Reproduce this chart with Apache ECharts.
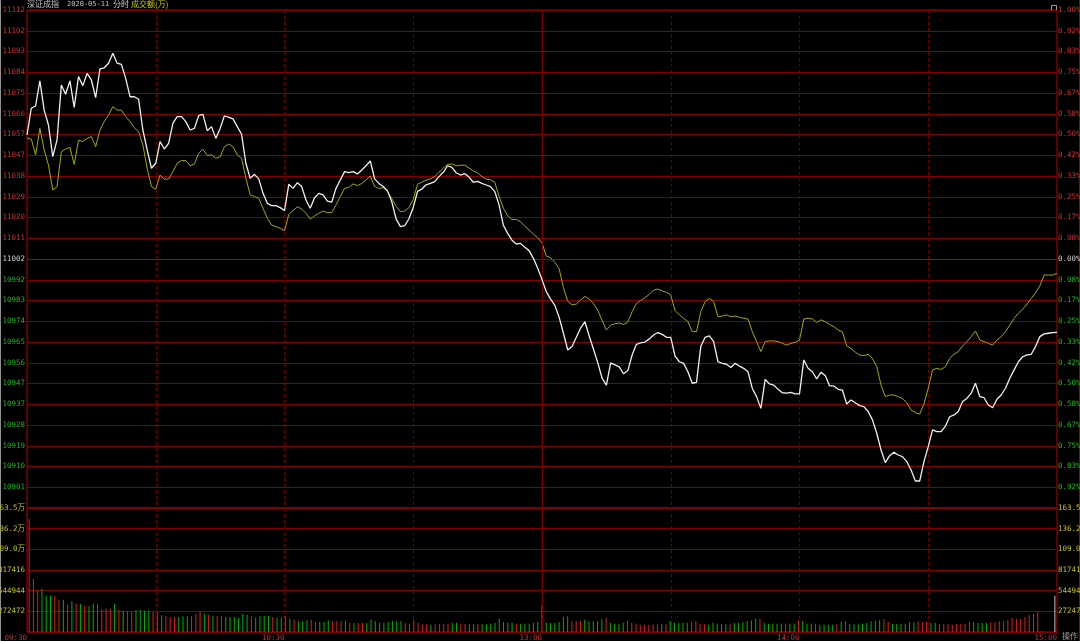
<!DOCTYPE html>
<html>
<head>
<meta charset="utf-8">
<script src="https://cdn.jsdelivr.net/npm/echarts/dist/echarts.min.js"></script>
<style>
html, body { margin: 0; padding: 0; background: #000; }
#chart { width: 1080px; height: 641px; }
</style>
</head>
<body>
<div id="chart"></div>
<script>
// previous close and the +/-1% band of the chart
var prevClose = 11002
var bandPct = 0.01

// time axis labels (index of the minute, text)
var timeTickIdx = [0, 60, 120, 180, 240]
var timeTickText = ['09:30', '10:30', '13:00', '14:00', '15:00']

// left / right price axis labels, top to bottom
var priceTicks = ['11112', '11102', '11093', '11084', '11075', '11066', '11057', '11047', '11038', '11029', '11020', '11011',
  '11002', '10992', '10983', '10974', '10965', '10956', '10947', '10937', '10928', '10919', '10910', '10901']
var pctTicks = ['1.00%', '0.92%', '0.83%', '0.75%', '0.67%', '0.58%', '0.50%', '0.42%', '0.33%', '0.25%', '0.17%', '0.08%',
  '0.00%', '0.08%', '0.17%', '0.25%', '0.33%', '0.42%', '0.50%', '0.58%', '0.67%', '0.75%', '0.83%', '0.92%']

// volume axis, bottom to top
var volStep = 272472
var volTicks = ['', '272472', '544944', '817416', '109.0万', '136.2万', '163.5万']

// index line (white), one value per minute
var indexLine = [
  11056.8, 11068.6, 11069.6, 11080.7, 11067.8, 11061.2, 11047.2, 11054.6, 11078.9, 11074.8,
  11080.7, 11069.0, 11082.6, 11078.6, 11084.0, 11081.1, 11073.3, 11086.0, 11086.5, 11088.5,
  11092.9, 11088.5, 11088.0, 11081.8, 11073.7, 11073.7, 11072.6, 11059.0, 11050.2, 11042.1,
  11044.3, 11053.9, 11050.6, 11053.1, 11062.0, 11064.9, 11064.9, 11062.7, 11059.0, 11059.7,
  11065.3, 11065.9, 11058.7, 11060.5, 11055.3, 11059.7, 11065.3, 11064.6, 11063.9, 11060.5,
  11057.1, 11044.3, 11037.7, 11039.4, 11037.4, 11031.0, 11026.6, 11025.6, 11025.6, 11024.7,
  11023.4, 11035.0, 11033.2, 11035.7, 11034.0, 11028.1, 11024.4, 11029.1, 11031.0, 11030.3,
  11027.6, 11027.1, 11033.2, 11036.9, 11040.6, 11040.2, 11040.6, 11039.6, 11041.3, 11043.2,
  11045.3, 11037.4, 11035.4, 11034.0, 11032.1, 11027.3, 11019.7, 11016.3, 11016.7, 11019.8,
  11024.8, 11031.9, 11032.9, 11034.8, 11035.4, 11036.2, 11038.4, 11040.3, 11043.2, 11042.5,
  11040.1, 11039.1, 11039.7, 11038.2, 11035.9, 11036.3, 11035.4, 11034.7, 11034.0, 11031.8,
  11025.9, 11016.9, 11013.3, 11010.3, 11008.6, 11008.9, 11007.2, 11005.7, 11002.3, 10997.9,
  10992.9, 10987.6, 10984.3, 10981.5, 10976.2, 10969.2, 10961.8, 10963.3, 10967.4, 10971.5,
  10974.3, 10968.0, 10962.1, 10956.1, 10949.4, 10946.3, 10956.1, 10955.2, 10954.3, 10951.3,
  10952.7, 10959.6, 10964.3, 10964.9, 10965.3, 10966.7, 10968.4, 10969.5, 10968.7, 10967.4,
  10967.4, 10959.1, 10956.6, 10955.9, 10952.2, 10947.1, 10947.5, 10963.3, 10967.4, 10968.0,
  10965.5, 10956.6, 10955.9, 10955.5, 10954.1, 10955.9, 10954.7, 10953.7, 10952.2, 10944.8,
  10941.2, 10936.0, 10948.8, 10946.8, 10946.3, 10944.4, 10942.9, 10942.7, 10943.1, 10942.4,
  10942.4, 10957.4, 10953.7, 10952.2, 10949.0, 10951.9, 10950.5, 10946.0, 10945.9, 10944.4,
  10944.1, 10937.9, 10939.7, 10938.5, 10937.2, 10936.8, 10934.6, 10930.9, 10925.0, 10917.6,
  10912.0, 10915.1, 10916.6, 10915.4, 10914.7, 10912.5, 10908.8, 10903.9, 10903.9, 10912.5,
  10919.1, 10926.5, 10925.7, 10925.7, 10928.2, 10932.3, 10933.1, 10934.6, 10939.0, 10940.4,
  10942.7, 10947.1, 10941.2, 10940.7, 10937.5, 10936.3, 10940.0, 10941.9, 10944.9, 10949.3,
  10953.0, 10956.6, 10958.8, 10959.6, 10959.9, 10963.3, 10967.7, 10968.9, 10969.2, 10969.5,
  10969.6
]

// second line (yellow)
var leadLine = [
  11055.5, 11055.0, 11048.0, 11059.7, 11050.2, 11043.5, 11032.5, 11034.0, 11049.4, 11050.6,
  11051.3, 11043.8, 11054.5, 11053.9, 11055.3, 11056.1, 11051.6, 11059.0, 11062.7, 11065.6,
  11069.3, 11067.8, 11067.8, 11064.9, 11062.7, 11060.0, 11058.3, 11052.4, 11042.1, 11034.0,
  11032.8, 11039.1, 11037.2, 11037.4, 11040.6, 11044.3, 11045.5, 11045.5, 11043.2, 11044.0,
  11048.7, 11050.5, 11047.7, 11048.0, 11046.5, 11047.2, 11051.6, 11052.8, 11051.6, 11048.0,
  11046.5, 11037.7, 11030.3, 11029.6, 11028.8, 11024.4, 11020.0, 11017.0, 11016.3, 11015.6,
  11014.5, 11021.7, 11023.4, 11025.1, 11024.1, 11022.2, 11019.7, 11021.0, 11022.2, 11023.2,
  11022.5, 11022.5, 11025.9, 11029.6, 11033.2, 11033.7, 11035.2, 11034.4, 11035.4, 11036.9,
  11038.7, 11034.0, 11033.2, 11033.5, 11031.8, 11028.7, 11025.3, 11022.9, 11023.2, 11024.7,
  11028.4, 11035.0, 11036.0, 11036.8, 11037.4, 11038.4, 11040.3, 11042.2, 11043.8, 11044.0,
  11043.2, 11043.4, 11043.5, 11042.2, 11040.9, 11040.1, 11038.4, 11037.3, 11037.0, 11035.9,
  11029.7, 11024.4, 11021.2, 11019.4, 11019.5, 11018.5, 11016.4, 11014.8, 11013.0, 11011.4,
  11009.1, 11003.3, 11002.6, 11000.5, 10997.7, 10989.3, 10983.3, 10981.7, 10982.1, 10983.9,
  10985.5, 10984.3, 10982.3, 10979.3, 10974.9, 10970.6, 10972.8, 10973.4, 10973.7, 10973.1,
  10974.2, 10978.7, 10982.3, 10983.7, 10984.9, 10986.4, 10988.3, 10988.7, 10987.9, 10987.3,
  10986.1, 10979.2, 10977.3, 10975.8, 10974.3, 10969.9, 10969.9, 10978.7, 10983.2, 10984.6,
  10983.2, 10976.5, 10976.8, 10977.3, 10976.5, 10976.8, 10976.2, 10975.8, 10975.5, 10969.9,
  10965.5, 10961.1, 10965.5, 10965.8, 10965.8, 10965.5, 10964.7, 10964.0, 10964.7, 10965.2,
  10966.2, 10975.5, 10975.8, 10975.5, 10974.0, 10975.1, 10974.3, 10973.1, 10972.1, 10970.6,
  10969.9, 10963.6, 10962.5, 10960.8, 10959.6, 10959.3, 10959.9, 10958.1, 10954.4, 10946.3,
  10941.2, 10941.9, 10941.9, 10941.2, 10940.4, 10938.5, 10935.3, 10934.1, 10933.5, 10937.9,
  10944.9, 10953.0, 10953.7, 10953.2, 10954.4, 10958.1, 10959.9, 10961.1, 10963.6, 10965.5,
  10967.7, 10970.2, 10966.2, 10965.5, 10964.7, 10964.0, 10966.2, 10967.7, 10969.9, 10972.8,
  10975.8, 10978.0, 10979.8, 10982.1, 10984.6, 10987.1, 10990.1, 10994.9, 10994.9, 10994.9,
  10995.7
]

// volume per minute
var volume = [
  1494000, 698600, 558000, 571200, 478900, 478900, 478900, 417400, 426200, 355900,
  404200, 373500, 369100, 347100, 338300, 373500, 373500, 303200, 307600, 307600,
  369100, 294400, 281200, 272400, 272400, 294400, 285600, 281200, 281200, 263600,
  263600, 219700, 206500, 197700, 197700, 197700, 206500, 206500, 206500, 237300,
  272400, 241700, 228500, 210900, 206500, 210900, 197700, 197700, 197700, 184500,
  241700, 228500, 210900, 188900, 210900, 210900, 210900, 197700, 184500, 184500,
  210900, 175800, 162600, 145000, 145000, 153800, 162600, 131800, 131800, 131800,
  153800, 145000, 145000, 145000, 140600, 118600, 123000, 118600, 123000, 118600,
  162600, 140600, 123000, 123000, 131800, 145000, 145000, 140600, 118600, 109900,
  162600, 118600, 101100, 101100, 96700, 101100, 109900, 109900, 109900, 123000,
  123000, 109900, 109900, 101100, 101100, 101100, 101100, 101100, 109900, 118600,
  175800, 131800, 123000, 123000, 109900, 109900, 109900, 109900, 123000, 131800,
  351500, 123000, 118600, 123000, 131800, 197700, 206500, 145000, 145000, 140600,
  162600, 140600, 140600, 140600, 167000, 188900, 123000, 109900, 109900, 123000,
  145000, 123000, 109900, 96700, 96700, 96700, 101100, 101100, 101100, 101100,
  145000, 123000, 123000, 123000, 123000, 131800, 145000, 109900, 101100, 96700,
  123000, 109900, 101100, 101100, 101100, 118600, 123000, 131800, 145000, 153800,
  175800, 175800, 118600, 109900, 109900, 109900, 109900, 109900, 109900, 109900,
  153800, 145000, 109900, 109900, 109900, 96700, 96700, 96700, 96700, 101100,
  131800, 140600, 109900, 101100, 101100, 109900, 118600, 140600, 149400, 153800,
  171400, 131800, 105500, 105500, 109900, 109900, 127400, 127400, 140600, 127400,
  131800, 118600, 118600, 105500, 105500, 105500, 96700, 105500, 105500, 109900,
  131800, 127400, 118600, 118600, 118600, 127400, 127400, 140600, 140600, 153800,
  184500, 175800, 175800, 197700, 219700, 237300, 263600, 8800, 0, 0,
  478900
]

// bar colour: 1 up (red), -1 down (green), 0 flat (grey)
var volDir = [
  1, 1, 1, -1, -1, -1, 1, 1, -1, 1,
  -1, 1, -1, 1, -1, -1, 1, 1, 1, 1,
  -1, 1, -1, 1, 1, -1, -1, -1, -1, 1,
  1, -1, 1, 1, 1, -1, -1, -1, 1, 1,
  1, -1, 1, -1, 1, 1, -1, -1, -1, -1,
  -1, -1, 1, -1, -1, -1, -1, 1, -1, -1,
  1, -1, 1, -1, -1, -1, 1, 1, -1, -1,
  -1, 1, 1, 1, -1, 1, -1, 1, 1, -1,
  -1, -1, -1, -1, -1, -1, -1, -1, 1, 1,
  1, 1, 1, 1, -1, 1, 1, 1, 1, -1,
  -1, 1, 1, -1, -1, 1, -1, -1, -1, -1,
  -1, -1, -1, -1, 1, -1, -1, -1, -1, -1,
  -1, -1, -1, -1, -1, -1, -1, 1, 1, 1,
  -1, -1, -1, -1, -1, 1, -1, -1, -1, -1,
  1, 1, 1, 1, 1, 1, 1, 1, -1, 1,
  -1, -1, -1, -1, -1, 1, 1, 1, 1, -1,
  -1, -1, -1, -1, 1, -1, -1, -1, -1, -1,
  -1, 1, -1, -1, -1, -1, -1, 1, -1, -1,
  1, -1, -1, -1, 1, -1, -1, -1, -1, 1,
  -1, 1, -1, -1, -1, -1, -1, -1, -1, -1,
  1, 1, -1, -1, -1, -1, -1, -1, 1, 1,
  1, -1, -1, 1, 1, 1, 1, 1, 1, 1,
  1, -1, -1, -1, -1, 1, 1, 1, 1, 1,
  1, 1, 1, 1, 1, 1, 1, 1, -1, -1,
  0
]

// minute labels 09:30..11:30, 13:01..15:00
var minutes = []
for (var i = 0; i < 241; i++) {
  var m = i <= 120 ? 9 * 60 + 30 + i : 13 * 60 + (i - 120)
  var hh = Math.floor(m / 60)
  var mm = m % 60
  minutes.push((hh < 10 ? '0' : '') + hh + ':' + (mm < 10 ? '0' : '') + mm)
}

var mono = '"DejaVu Sans Mono", "Noto Sans CJK SC", monospace'
var fs = 7.5
var red = '#c83030'
var green = '#20b020'
var flat = '#d0d0d0'
var gridRed = '#840000'
var frameRed = '#b00000'
var volYellow = '#c0c020'

var myChart = echarts.init(document.getElementById('chart'))

function sideColor (v) {
  v = Number(v)
  if (v > 12) return red
  if (v === 12) return flat
  return green
}

myChart.setOption({
  backgroundColor: '#000',
  animation: false,
  grid: [
    { left: 27, right: 23, top: 10, height: 498, outerBoundsMode: 'none', containLabel: false, show: true, borderColor: frameRed, borderWidth: 1, backgroundColor: '#000' },
    { left: 27, right: 23, top: 508, height: 124, outerBoundsMode: 'none', containLabel: false, show: true, borderColor: frameRed, borderWidth: 1, backgroundColor: '#000' }
  ],
  xAxis: [
    {
      gridIndex: 0,
      type: 'category',
      boundaryGap: false,
      data: minutes,
      axisLine: { show: false },
      axisTick: { show: false },
      axisLabel: { show: false },
      splitLine: {
        show: true,
        interval: function (idx) { return idx % 30 === 0 },
        lineStyle: { color: '#6a0000', type: [3, 3], width: 1 }
      }
    },
    {
      gridIndex: 1,
      type: 'category',
      position: 'top',
      boundaryGap: true,
      data: minutes,
      show: false
    },
    {
      gridIndex: 1,
      type: 'category',
      position: 'bottom',
      boundaryGap: false,
      data: minutes,
      axisLine: { show: false },
      axisTick: { show: false },
      axisLabel: {
        interval: function (idx) { return timeTickIdx.indexOf(idx) >= 0 },
        formatter: function (val, idx) {
          var k = timeTickIdx.indexOf(idx)
          return k >= 0 ? timeTickText[k] : ''
        },
        align: 'right',
        margin: 2,
        color: red,
        fontSize: fs,
        fontFamily: mono
      },
      splitLine: {
        show: true,
        interval: function (idx) { return idx % 30 === 0 },
        lineStyle: { color: '#6a0000', type: [3, 3], width: 1 }
      }
    }
  ],
  yAxis: [
    {
      gridIndex: 0,
      type: 'value',
      min: 0,
      max: 24,
      interval: 1,
      position: 'left',
      axisLine: { show: false },
      axisTick: { show: false },
      axisLabel: {
        margin: 2,
        fontSize: fs,
        fontFamily: mono,
        formatter: function (v) { return priceTicks[24 - v] || '' },
        color: sideColor
      },
      splitLine: { show: true, lineStyle: { color: gridRed, width: 1 } }
    },
    {
      gridIndex: 0,
      type: 'value',
      min: 0,
      max: 24,
      interval: 1,
      position: 'right',
      axisLine: { show: false },
      axisTick: { show: false },
      axisLabel: {
        margin: 1,
        fontSize: fs,
        fontFamily: mono,
        formatter: function (v) { return pctTicks[24 - v] || '' },
        color: sideColor
      },
      splitLine: { show: false }
    },
    {
      gridIndex: 0,
      type: 'value',
      min: prevClose * (1 - bandPct),
      max: prevClose * (1 + bandPct),
      show: false,
      splitLine: { show: false }
    },
    {
      gridIndex: 1,
      type: 'value',
      min: 0,
      max: volStep * 6,
      interval: volStep,
      position: 'left',
      axisLine: { show: false },
      axisTick: { show: false },
      axisLabel: {
        margin: 2,
        fontSize: fs,
        fontFamily: mono,
        color: volYellow,
        formatter: function (v) { return volTicks[Math.round(v / volStep)] || '' }
      },
      splitLine: { show: true, lineStyle: { color: gridRed, width: 1 } }
    },
    {
      gridIndex: 1,
      type: 'value',
      min: 0,
      max: volStep * 6,
      interval: volStep,
      position: 'right',
      axisLine: { show: false },
      axisTick: { show: false },
      axisLabel: {
        margin: 1,
        fontSize: fs,
        fontFamily: mono,
        color: volYellow,
        formatter: function (v) { return volTicks[Math.round(v / volStep)] || '' }
      },
      splitLine: { show: false }
    }
  ],
  series: [
    {
      name: '深证成指',
      type: 'line',
      xAxisIndex: 0,
      yAxisIndex: 2,
      data: indexLine,
      showSymbol: false,
      lineStyle: { color: '#f0f0f0', width: 1.3 },
      z: 5,
      markLine: {
        silent: true,
        symbol: 'none',
        label: { show: false },
        data: [
          { yAxis: prevClose, lineStyle: { color: frameRed, type: 'solid', width: 1 } },
          { xAxis: 120, lineStyle: { color: '#7a0000', type: 'solid', width: 1 } }
        ]
      }
    },
    {
      name: '领先',
      type: 'line',
      xAxisIndex: 0,
      yAxisIndex: 2,
      data: leadLine,
      showSymbol: false,
      lineStyle: { color: '#a8a800', width: 1 },
      z: 4
    },
    {
      name: '成交额',
      type: 'bar',
      xAxisIndex: 1,
      yAxisIndex: 3,
      data: volume,
      barWidth: 1,
      itemStyle: {
        color: function (p) {
          var d = volDir[p.dataIndex]
          return d > 0 ? '#d82020' : (d < 0 ? '#00b000' : '#c8c8c8')
        }
      },
      markLine: {
        silent: true,
        symbol: 'none',
        label: { show: false },
        data: [{ xAxis: 120, lineStyle: { color: '#7a0000', type: 'solid', width: 1 } }]
      }
    }
  ],
  graphic: [
    { type: 'text', left: 27, top: 0, style: { text: '深证成指', fill: '#c0c0c0', font: '8px "Noto Sans CJK SC"' } },
    { type: 'text', left: 67, top: 1, style: { text: '2020-05-11', fill: '#c0c0c0', font: '7px ' + mono } },
    { type: 'text', left: 113, top: 0, style: { text: '分时', fill: '#d0d0d0', font: '8px "Noto Sans CJK SC"' } },
    { type: 'text', left: 131, top: 0, style: { text: '成交额(万)', fill: '#c8c800', font: '8px "Noto Sans CJK SC"' } },
    { type: 'rect', left: 1049, top: 3, shape: { width: 5, height: 5 }, style: { fill: 'none', stroke: '#a0a0a0', lineWidth: 1 } },
    { type: 'text', left: 1062, top: 632, style: { text: '操作', fill: '#a0a0a0', font: '8px "Noto Sans CJK SC"' } },
    { type: 'line', shape: { x1: 0.5, y1: 0, x2: 0.5, y2: 641 }, style: { stroke: '#909090', lineWidth: 1 } },
    { type: 'line', shape: { x1: 1079.5, y1: 0, x2: 1079.5, y2: 641 }, style: { stroke: '#a00000', lineWidth: 1 } }
  ]
})
</script>
</body>
</html>
